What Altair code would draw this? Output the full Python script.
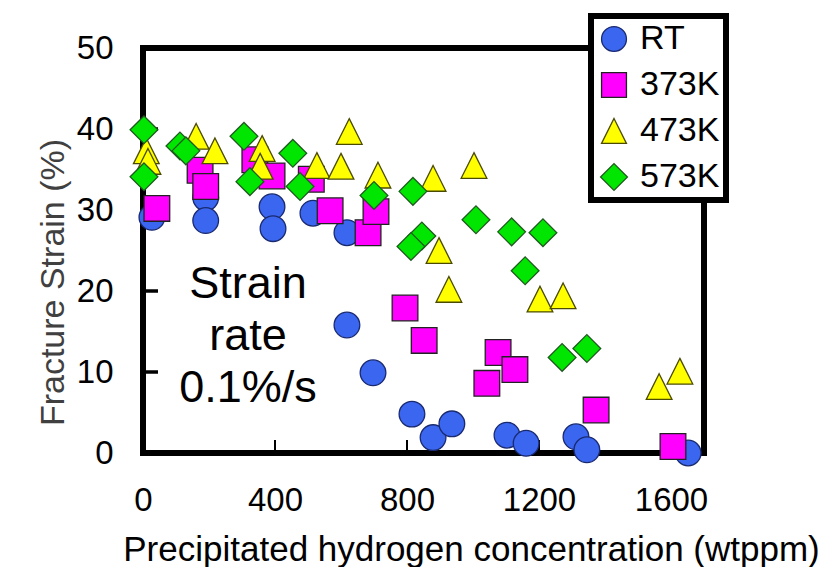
import altair as alt
import pandas as pd

# ---- data ----
series_names = ["RT", "373K", "473K", "573K"]

rt_x = [27, 190, 190, 391, 394, 515, 618, 618, 697, 815, 879, 936, 1103, 1161, 1312, 1345, 1652]
rt_y = [29.1, 31.5, 28.7, 30.4, 27.7, 29.6, 27.2, 15.8, 9.9, 4.8, 1.9, 3.6, 2.2, 1.2, 2.0, 0.4, 0.0]

k373_x = [42, 173, 190, 339, 391, 510, 567, 682, 706, 794, 852, 1076, 1127, 1042, 1373, 1606]
k373_y = [30.2, 34.9, 32.9, 36.2, 34.2, 33.8, 29.9, 27.2, 29.8, 17.9, 13.9, 12.4, 10.3, 8.6, 5.3, 0.8]

k473_x = [10, 15, 161, 218, 361, 355, 527, 600, 625, 712, 879, 1003, 897, 927, 1203, 1273, 1564, 1627]
k473_y = [37.3, 36.0, 39.1, 37.3, 37.6, 35.4, 35.5, 35.4, 39.7, 34.3, 33.9, 35.5, 25.0, 20.2, 19.0, 19.4, 8.2, 10.1]

k573_x = [3, 3, 112, 130, 306, 324, 454, 476, 700, 818, 1009, 1117, 1212, 845, 812, 1158, 1270, 1345]
k573_y = [39.9, 34.1, 37.9, 37.3, 39.1, 33.5, 37.0, 32.9, 31.8, 32.3, 28.8, 27.3, 27.2, 26.8, 25.5, 22.5, 11.8, 12.9]

x_tick_labels = [0, 400, 800, 1200, 1600]
y_tick_labels = [0, 10, 20, 30, 40, 50]
x_inner_ticks = [400, 800, 1200, 1600]
y_inner_ticks = [10, 20, 30, 40]

annotation_lines = ["Strain", "rate", "0.1%/s"]
x_title = "Precipitated hydrogen concentration (wtppm)"
y_title = "Fracture Strain (%)"

# ---- build table ----
rows = []
for name, xs, ys in zip(series_names, [rt_x, k373_x, k473_x, k573_x], [rt_y, k373_y, k473_y, k573_y]):
    for xv, yv in zip(xs, ys):
        rows.append({"h": xv, "strain": yv, "series": name})
df = pd.DataFrame(rows)

FONT = "Liberation Sans"
xscale = alt.Scale(domain=[0, 1700], nice=False, zero=False)
yscale = alt.Scale(domain=[0, 50], nice=False, zero=False)

fill_colors = ["#3A66F0", "#FF00FF", "#FFFF00", "#00E600"]
stroke_colors = ["#1A2A70", "#222222", "#4A4A00", "#1F5A1F"]
shapes = ["circle", "square", "M0,-1L1,1L-1,1Z", "M-1.08,0L0,-1.08L1.08,0L0,1.08Z"]

legend = alt.Legend(
    orient="none", legendX=448, legendY=-32, title=None,
    labelFont=FONT, labelFontSize=34, labelColor="black",
    symbolSize=620, symbolStrokeWidth=1.3, padding=6, rowPadding=12,
    labelOffset=9, fillColor="white",
)

xaxis = alt.Axis(
    values=x_tick_labels, format="d", ticks=False, domain=False, grid=False, labelFlush=False,
    labelFont=FONT, labelFontSize=33, labelColor="black", labelPadding=31,
    title=x_title, titleFont=FONT, titleFontSize=35, titleFontWeight="normal",
    titleColor="black", titleX=328, titleY=107, titleBaseline="alphabetic", titleAlign="center",
)
yaxis = alt.Axis(
    values=y_tick_labels, format="d", ticks=False, domain=False, grid=False, labelFlush=False,
    labelFont=FONT, labelFontSize=33, labelColor="black", labelPadding=30,
    title=y_title, titleFont=FONT, titleFontSize=34, titleFontWeight="normal",
    titleColor="#404040", titleX=-80, titleY=234, titleBaseline="alphabetic", titleAlign="center",
    titleAngle=270,
)

yt = alt.Chart(pd.DataFrame({"strain": y_inner_ticks})).mark_rule(color="black", strokeWidth=3.5).encode(
    y=alt.Y("strain:Q", scale=yscale, axis=yaxis), x=alt.value(0), x2=alt.value(15))
xt = alt.Chart(pd.DataFrame({"h": x_inner_ticks})).mark_rule(color="black", strokeWidth=2).encode(
    x=alt.X("h:Q", scale=xscale, axis=xaxis), y=alt.value(392), y2=alt.value(405))

points = alt.Chart(df).mark_point(filled=True, size=660, strokeWidth=1.3, opacity=1).encode(
    x=alt.X("h:Q", scale=xscale, axis=xaxis),
    y=alt.Y("strain:Q", scale=yscale, axis=yaxis),
    fill=alt.Fill("series:N", sort=series_names,
                  scale=alt.Scale(domain=series_names, range=fill_colors), legend=legend),
    stroke=alt.Stroke("series:N", sort=series_names,
                      scale=alt.Scale(domain=series_names, range=stroke_colors), legend=legend),
    shape=alt.Shape("series:N", sort=series_names,
                    scale=alt.Scale(domain=series_names, range=shapes), legend=legend),
)

note = alt.Chart(pd.DataFrame({"a": [1]})).mark_text(
    text=annotation_lines, font=FONT, fontSize=45, align="center", baseline="alphabetic",
    lineHeight=52, color="black").encode(x=alt.value(105), y=alt.value(250))

chart = alt.layer(yt, xt, points, note).properties(
    width=561, height=405,
    autosize=alt.AutoSizeParams(type="none"),
    padding={"left": 135, "top": 40, "right": 122, "bottom": 114},
).configure_view(stroke="black", strokeWidth=6).configure_legend(
    strokeColor="black", strokeWidth=6)

chart.save("out.html", embed_options={"renderer": "svg", "actions": False})
